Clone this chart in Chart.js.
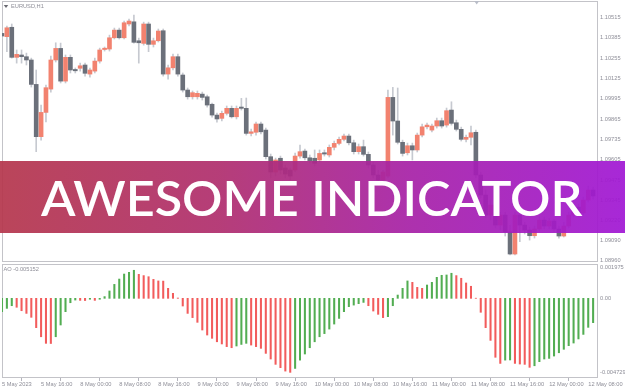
<!DOCTYPE html>
<html>
<head>
<meta charset="utf-8">
<script src="https://cdn.jsdelivr.net/npm/chart.js@4/dist/chart.umd.min.js"></script>
<style>
html,body{margin:0;padding:0;background:#fff;}
body{width:625px;height:391px;position:relative;overflow:hidden;}
#wrapP{position:absolute;left:0;top:0;width:625px;height:263px;}
#wrapA{position:absolute;left:0;top:263px;width:625px;height:128px;}
#banner{position:absolute;left:0;top:160.7px;width:625px;height:72.6px;
  background:linear-gradient(90deg,rgba(181,55,77,.93) 0%,rgba(176,47,110,.93) 35%,rgba(167,34,166,.93) 65%,rgba(161,24,212,.93) 100%);}
#btxt{position:absolute;left:40px;top:174px;font-family:Lato,"Open Sans",sans-serif;font-weight:600;font-size:48px;line-height:48px;color:#fff;white-space:nowrap;transform-origin:0 0;}
</style>
</head>
<body>
<div id="wrapP"><canvas id="price" width="625" height="263"></canvas></div>
<div id="wrapA"><canvas id="ao" width="625" height="128"></canvas></div>
<div id="banner"></div>
<div id="btxt">AWESOME INDICATOR</div>
<script>
// ---- data (EURUSD H1) ----
const open = [
1.10413,1.10392,1.10452,1.10260,1.10275,1.10264,1.10243,1.10087,1.09753,1.09908,
1.10057,1.10243,1.10317,1.10108,1.10260,1.10179,1.10190,1.10211,1.10153,1.10172,
1.10236,1.10310,1.10313,1.10385,1.10434,1.10385,1.10473,1.10487,1.10366,1.10349,
1.10473,1.10343,1.10366,1.10430,1.10153,1.10193,1.10264,1.10147,1.10051,1.10008,
1.10008,1.10025,1.10008,1.09960,1.09891,1.09870,1.09902,1.09934,1.09880,1.09940,
1.09934,1.09774,1.09781,1.09834,1.09795,1.09625,1.09527,1.09615,1.09553,1.09540,
1.09540,1.09629,1.09661,1.09618,1.09615,1.09604,1.09650,1.09636,1.09685,1.09710,
1.09736,1.09757,1.09714,1.09657,1.09689,1.09640,1.09572,1.09508,1.09476,1.09501,
1.10004,1.09853,1.09717,1.09650,1.09695,1.09668,1.09763,1.09816,1.09795,1.09821,
1.09855,1.09827,1.09923,1.09842,1.09800,1.09736,1.09749,1.09781,1.09508,1.09380,
1.09252,1.09316,1.09188,1.09252,1.09144,1.09003,1.09252,1.09188,1.09156,1.09120,
1.09163,1.09220,1.09182,1.09214,1.09163,1.09118,1.09182,1.09252,1.09303,1.09265,
1.09348,1.09412];
const high = [
1.10428,1.10460,1.10473,1.10307,1.10307,1.10287,1.10255,1.10179,1.09955,1.10083,
1.10268,1.10353,1.10351,1.10275,1.10275,1.10192,1.10223,1.10223,1.10192,1.10255,
1.10319,1.10326,1.10402,1.10447,1.10447,1.10492,1.10505,1.10530,1.10383,1.10485,
1.10485,1.10383,1.10441,1.10441,1.10211,1.10281,1.10281,1.10160,1.10064,1.10045,
1.10045,1.10038,1.10019,1.09968,1.09904,1.09917,1.09949,1.09949,1.09949,1.09998,
1.10000,1.09802,1.09846,1.09846,1.09808,1.09642,1.09616,1.09629,1.09572,1.09553,
1.09648,1.09700,1.09674,1.09636,1.09668,1.09668,1.09668,1.09700,1.09725,1.09751,
1.09770,1.09770,1.09731,1.09706,1.09731,1.09655,1.09591,1.09540,1.09540,1.10051,
1.10068,1.10064,1.09731,1.09712,1.09712,1.09776,1.09834,1.09840,1.09834,1.09872,
1.09872,1.09936,1.09976,1.09859,1.09814,1.09763,1.09821,1.09795,1.09527,1.09412,
1.09348,1.09335,1.09271,1.09271,1.09188,1.09271,1.09297,1.09207,1.09176,1.09182,
1.09246,1.09239,1.09233,1.09227,1.09182,1.09207,1.09271,1.09322,1.09322,1.09367,
1.09438,1.09431];
const low = [
1.10377,1.10296,1.10255,1.10223,1.10223,1.10211,1.10070,1.09657,1.09731,1.09848,
1.10038,1.10230,1.10096,1.10096,1.10160,1.10160,1.10172,1.10140,1.10134,1.10160,
1.10223,1.10300,1.10300,1.10377,1.10377,1.10377,1.10460,1.10351,1.10223,1.10338,
1.10296,1.10326,1.10358,1.10140,1.10121,1.10179,1.10140,1.10038,1.09993,1.09993,
1.09993,1.09987,1.09942,1.09878,1.09846,1.09853,1.09891,1.09872,1.09866,1.09923,
1.09763,1.09757,1.09763,1.09770,1.09610,1.09489,1.09501,1.09514,1.09489,1.09476,
1.09527,1.09616,1.09604,1.09584,1.09565,1.09591,1.09629,1.09623,1.09668,1.09700,
1.09725,1.09700,1.09642,1.09642,1.09629,1.09553,1.09489,1.09450,1.09457,1.09489,
1.09763,1.09706,1.09629,1.09636,1.09604,1.09655,1.09751,1.09802,1.09783,1.09808,
1.09808,1.09814,1.09827,1.09789,1.09725,1.09719,1.09700,1.09489,1.09361,1.09233,
1.09220,1.09169,1.09156,1.09118,1.08997,1.08997,1.09082,1.09131,1.09092,1.09105,
1.09150,1.09163,1.09163,1.09144,1.09105,1.09112,1.09169,1.09239,1.09246,1.09252,
1.09335,1.09354];
const close = [
1.10396,1.10449,1.10260,1.10279,1.10264,1.10243,1.10087,1.09753,1.09908,1.10066,
1.10243,1.10317,1.10108,1.10260,1.10179,1.10174,1.10206,1.10158,1.10179,1.10236,
1.10307,1.10316,1.10385,1.10434,1.10385,1.10481,1.10492,1.10356,1.10353,1.10473,
1.10343,1.10366,1.10428,1.10153,1.10193,1.10264,1.10153,1.10051,1.10008,1.10034,
1.10030,1.10004,1.09955,1.09891,1.09866,1.09902,1.09934,1.09880,1.09934,1.09934,
1.09774,1.09784,1.09834,1.09784,1.09625,1.09527,1.09604,1.09540,1.09514,1.09501,
1.09629,1.09657,1.09618,1.09599,1.09583,1.09646,1.09642,1.09685,1.09710,1.09736,
1.09757,1.09714,1.09657,1.09689,1.09640,1.09572,1.09508,1.09476,1.09527,1.10004,
1.09853,1.09717,1.09646,1.09695,1.09668,1.09763,1.09816,1.09827,1.09821,1.09855,
1.09821,1.09919,1.09838,1.09800,1.09736,1.09749,1.09778,1.09508,1.09380,1.09252,
1.09316,1.09188,1.09252,1.09144,1.09003,1.09252,1.09188,1.09156,1.09120,1.09163,
1.09220,1.09182,1.09214,1.09163,1.09118,1.09182,1.09252,1.09303,1.09265,1.09348,
1.09412,1.09374];
const aoValues = [
-0.00085,-0.00064,-0.00047,-0.00057,-0.00079,-0.00096,-0.00121,-0.00187,-0.00245,-0.00287,
-0.00288,-0.00245,-0.00170,-0.00085,-0.00028,-0.00011,-0.00013,-0.00014,-0.00006,-0.00013,
-0.00006,0.00011,0.00047,0.00089,0.00123,0.00155,0.00166,0.00179,0.00153,0.00145,
0.00138,0.00121,0.00111,0.00110,0.00064,0.00032,0.00002,-0.00049,-0.00096,-0.00123,
-0.00153,-0.00202,-0.00234,-0.00255,-0.00277,-0.00291,-0.00308,-0.00315,-0.00304,-0.00294,
-0.00287,-0.00298,-0.00308,-0.00319,-0.00351,-0.00387,-0.00421,-0.00442,-0.00464,-0.00472,
-0.00447,-0.00394,-0.00355,-0.00315,-0.00277,-0.00245,-0.00225,-0.00196,-0.00164,-0.00128,
-0.00085,-0.00053,-0.00043,-0.00034,-0.00026,-0.00047,-0.00081,-0.00102,-0.00123,-0.00117,
-0.00047,0.00021,0.00064,0.00111,0.00102,0.00070,0.00064,0.00085,0.00102,0.00134,
0.00147,0.00149,0.00160,0.00145,0.00128,0.00098,0.00077,0.00001,-0.00089,-0.00187,
-0.00268,-0.00376,-0.00415,-0.00394,-0.00393,-0.00415,-0.00419,-0.00421,-0.00440,-0.00430,
-0.00404,-0.00387,-0.00383,-0.00368,-0.00347,-0.00325,-0.00302,-0.00285,-0.00259,-0.00230,
-0.00185,-0.00155];
const priceTicks = [1.10515,1.10385,1.10255,1.10125,1.09995,1.09865,1.09735,1.09605,1.09475,1.09345,1.09220,1.09090,1.08960];
const aoTicks = [0.001975, 0, -0.004729];
const aoTickLabels = ["0.001975", "0.00", "-0.004729"];
const tickBars = [0,8,16,24,32,40,48,56,64,72,80,88,96,104,112,120];
const tickLabels = ["5 May 2023","5 May 16:00","8 May 00:00","8 May 08:00","8 May 16:00","9 May 00:00","9 May 08:00","9 May 16:00","10 May 00:00","10 May 08:00","10 May 16:00","11 May 00:00","11 May 08:00","11 May 16:00","12 May 00:00","12 May 08:00"];
const symbolLabel = "EURUSD,H1";
const aoLabel = "AO -0.005152";
const bannerTitle = "AWESOME INDICATOR";

// ---- styling ----
const SLOTS = 122;
const upColor = '#f2826f', downColor = '#6b707a', wickColor = '#c6c9d0';
const aoUp = '#52ad52', aoDown = '#f25c5c';
const axisFont = {family: '"Liberation Sans", Arial, sans-serif', size: 5.7};
const axisColor = '#8e8e98';

const framePlugin = {
  id: 'frame',
  beforeDatasetsDraw(chart) {
    const {ctx, chartArea: a} = chart;
    ctx.save();
    ctx.strokeStyle = '#c3c3c8';
    ctx.lineWidth = 1;
    ctx.strokeRect(a.left + 0.5, a.top + 0.5, a.right - a.left - 1, a.bottom - a.top - 1);
    ctx.restore();
  }
};
function textPlugin(items, marks) {
  return {
    id: 'txt',
    afterDraw(chart) {
      const ctx = chart.ctx;
      ctx.save();
      (marks || []).forEach(m => {
        ctx.fillStyle = m.color;
        ctx.beginPath();
        ctx.moveTo(m.x - m.w / 2, m.y);
        ctx.lineTo(m.x + m.w / 2, m.y);
        ctx.lineTo(m.x, m.y + m.h);
        ctx.closePath();
        ctx.fill();
      });
      ctx.font = '5.7px "Liberation Sans", Arial, sans-serif';
      ctx.fillStyle = axisColor;
      ctx.textBaseline = 'middle';
      items.forEach(t => ctx.fillText(t.text, t.x, t.y));
      ctx.restore();
    }
  };
}

// ---- price (candles) ----
const bodyColors = open.map((o, i) => close[i] >= o ? upColor : downColor);
new Chart(document.getElementById('price'), {
  type: 'bar',
  data: {
    datasets: [
      {data: open.map((o, i) => ({x: i, y: [o, close[i]]})), backgroundColor: bodyColors,
       barThickness: 4, grouped: false, minBarLength: 1.3, order: 0},
      {data: low.map((l, i) => ({x: i, y: [l, high[i]]})), backgroundColor: wickColor,
       barThickness: 1, grouped: false, order: 1}
    ]
  },
  options: {
    responsive: false, animation: false, events: [],
    layout: {padding: {left: 2, top: 1, right: 0, bottom: 1}},
    plugins: {legend: {display: false}, tooltip: {enabled: false}},
    scales: {
      x: {type: 'linear', min: 0, max: SLOTS, display: false, offset: false},
      y: {
        position: 'right', min: 1.08952, max: 1.10620,
        afterBuildTicks: s => { s.ticks = priceTicks.map(v => ({value: v})); },
        afterFit: s => { s.width = 27; s.paddingTop = 0; s.paddingBottom = 0; },
        grid: {display: false, drawTicks: false, tickLength: 0}, border: {display: false},
        ticks: {callback: v => Number(v).toFixed(5), font: axisFont, color: axisColor, padding: 2, autoSkip: false}
      }
    }
  },
  plugins: [framePlugin, textPlugin(
    [{text: symbolLabel, x: 11, y: 6.5}],
    [{x: 6, y: 5, w: 4.5, h: 3, color: '#6a6a72'}, {x: 476.7, y: 1, w: 5, h: 3.5, color: '#b9bdc8'}]
  )]
});

// ---- Awesome Oscillator ----
const aoColors = aoValues.map((v, i) => (i === 0 || v > aoValues[i - 1]) ? aoUp : aoDown);
new Chart(document.getElementById('ao'), {
  type: 'bar',
  data: {
    datasets: [{data: aoValues.map((v, i) => ({x: i, y: v})), backgroundColor: aoColors, barThickness: 1.4}]
  },
  options: {
    responsive: false, animation: false, events: [],
    layout: {padding: {left: 2, top: 1, right: 0, bottom: 0}},
    plugins: {legend: {display: false}, tooltip: {enabled: false}},
    scales: {
      x: {
        type: 'linear', min: 0, max: SLOTS, offset: false,
        afterBuildTicks: s => { s.ticks = tickBars.map(v => ({value: v})); },
        afterFit: s => { s.height = 13; s.paddingLeft = 0; s.paddingRight = 0; },
        grid: {drawOnChartArea: false, drawTicks: true, tickLength: 3, color: '#b4b4bc'},
        border: {display: false},
        ticks: {align: 'start', maxRotation: 0, minRotation: 0, autoSkip: false, padding: 0,
                callback: (v, i) => tickLabels[i], font: axisFont, color: axisColor}
      },
      y: {
        position: 'right', min: -0.00508, max: 0.00219,
        afterBuildTicks: s => { s.ticks = aoTicks.map(v => ({value: v})); },
        afterFit: s => { s.width = 27; s.paddingTop = 0; s.paddingBottom = 0; },
        grid: {display: false, drawTicks: false, tickLength: 0}, border: {display: false},
        ticks: {callback: (v, i) => aoTickLabels[i], font: axisFont, color: axisColor, padding: 2, autoSkip: false}
      }
    }
  },
  plugins: [framePlugin, textPlugin([{text: aoLabel, x: 3.5, y: 6.7}])]
});

// ---- banner title: fit to the reference box ----
(function () {
  const el = document.getElementById('btxt');
  el.textContent = bannerTitle;
  const c = document.createElement('canvas').getContext('2d');
  const fam = getComputedStyle(el).fontFamily;
  const wt = getComputedStyle(el).fontWeight;
  let fs = 48;
  c.font = `${wt} ${fs}px ${fam}`;
  const capH = c.measureText('H').actualBoundingBoxAscent || fs * 0.72;
  fs = fs * 35 / capH;
  c.font = `${wt} ${fs}px ${fam}`;
  const m = c.measureText(bannerTitle);
  const asc = m.fontBoundingBoxAscent || fs * 0.99, desc = m.fontBoundingBoxDescent || fs * 0.21;
  const inkW = (m.actualBoundingBoxRight || m.width) + (m.actualBoundingBoxLeft || 0);
  el.style.fontSize = fs + 'px';
  el.style.lineHeight = fs + 'px';
  el.style.top = (216.7 - ((fs - (asc + desc)) / 2 + asc)) + 'px';
  el.style.left = (40 + (m.actualBoundingBoxLeft || 0)) + 'px';
  el.style.transform = `scaleX(${543 / inkW})`;
})();
</script>
</body>
</html>
